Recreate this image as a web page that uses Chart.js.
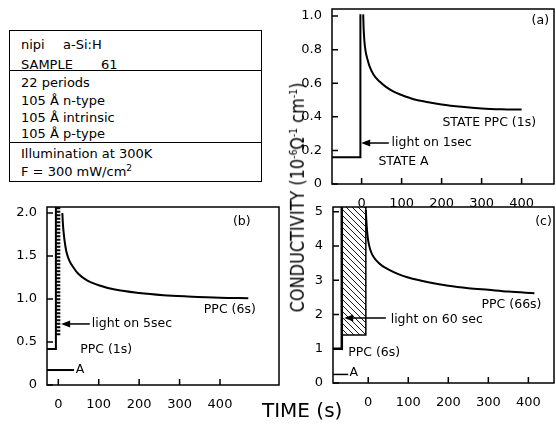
<!DOCTYPE html>
<html><head><meta charset="utf-8">
<script src="https://cdn.jsdelivr.net/npm/chart.js@4.4.1/dist/chart.umd.min.js"></script>
<style>
html,body{margin:0;padding:0;background:#fff;}
body{width:556px;height:428px;position:relative;overflow:hidden;font-family:"DejaVu Sans",sans-serif;color:#000;}
canvas{position:absolute;}
.box{position:absolute;left:9px;top:30px;width:251px;height:150px;border:1.5px solid #000;}
.hr{position:absolute;left:0;right:0;height:0;border-top:1.5px solid #000;}
.ln{position:absolute;font-size:13px;line-height:1;white-space:nowrap;transform:translateY(-50%);}
.title{position:absolute;white-space:nowrap;font-size:19px;line-height:1;transform-origin:center center;}
.title sup{font-size:11px;line-height:0;vertical-align:7px;}
.ln sup{font-size:9px;line-height:0;vertical-align:5px;}
</style></head><body>
<canvas id="ca" width="256" height="210" style="left:300px;top:0px"></canvas>
<canvas id="cb" width="272" height="215" style="left:10px;top:195px"></canvas>
<canvas id="cc" width="246" height="215" style="left:310px;top:195px"></canvas>

<div class="box">
  <span class="ln" style="left:11px;top:13px">nipi</span><span class="ln" style="left:53px;top:13px">a-Si:H</span>
  <span class="ln" style="left:11px;top:33px">SAMPLE</span><span class="ln" style="left:91px;top:33px">61</span>
  <div class="hr" style="top:39px"></div>
  <span class="ln" style="left:11px;top:51px">22 periods</span>
  <span class="ln" style="left:11px;top:69px">105 Å</span><span class="ln" style="left:53px;top:69px">n-type</span>
  <span class="ln" style="left:11px;top:86px">105 Å</span><span class="ln" style="left:53px;top:86px">intrinsic</span>
  <span class="ln" style="left:11px;top:102px">105 Å</span><span class="ln" style="left:53px;top:102px">p-type</span>
  <div class="hr" style="top:111px"></div>
  <span class="ln" style="left:11px;top:122px">Illumination at 300K</span>
  <span class="ln" style="left:11px;top:140px">F = 300 mW/cm<sup>2</sup></span>
</div>

<div id="ytitle" class="title">CONDUCTIVITY (10<sup>-6</sup>Ω<sup>-1</sup> cm<sup>-1</sup>)</div>
<div id="xtitle" class="title">TIME (s)</div>

<script>
// ---------------- DATA ----------------
const xTickValues = [0, 100, 200, 300, 400];
const aTickValues = [0, 0.2, 0.4, 0.6, 0.8, 1.0];
const aTickLabels = ['0', '0.2', '0.4', '0.6', '0.8', '1.0'];
const bTickValues = [0, 0.5, 1.0, 1.5, 2.0];
const bTickLabels = ['0', '0.5', '1.0', '1.5', '2.0'];
const cTickValues = [0, 1, 2, 3, 4, 5];
const cTickLabels = ['0', '1', '2', '3', '4', '5'];

// (a) light on 1 s
const aStepTime = [-74, -3, -3];
const aStepCond = [0.16, 0.16, 1.01];
const aDecayTime = [4, 5, 7, 10, 15, 20, 30, 45, 60, 80, 100, 130, 160, 200, 250, 300, 350, 400];
const aDecayCond = [1.01, 0.93, 0.85, 0.79, 0.74, 0.70, 0.65, 0.61, 0.58, 0.55, 0.53, 0.505, 0.49, 0.474, 0.46, 0.45, 0.445, 0.443];

// (b) light on 5 s
const bStateATime = [-28, 39];
const bStateACond = [0.174, 0.174];
const bStepTime = [-28, -6, -6];
const bStepCond = [0.42, 0.42, 2.1];
const bLightTime = [0, 0];
const bLightCond = [0.58, 2.1];
const bDecayTime = [10, 11, 13, 16, 20, 27, 37, 50, 70, 100, 140, 200, 260, 320, 400, 470];
const bDecayCond = [2.0, 1.9, 1.78, 1.66, 1.55, 1.45, 1.37, 1.29, 1.22, 1.16, 1.11, 1.07, 1.045, 1.03, 1.015, 1.01];

// (c) light on 60 s
const cStateATime = [-88, -50];
const cStateACond = [0.25, 0.25];
const cStepTime = [-88, -66, -66];
const cStepCond = [1.0, 1.0, 5.2];
const cLightTime = [-66, -6];
const cLightTop = [5.2, 5.2];
const cLightBase = 1.4;
const cLightEdgeTime = [-66, -6, -6];
const cLightEdgeCond = [1.4, 1.4, 5.2];
const cDecayTime = [-6, -5, -3, 0, 5, 10, 20, 35, 50, 75, 100, 150, 200, 250, 300, 350, 415];
const cDecayCond = [5.05, 4.8, 4.45, 4.15, 3.9, 3.75, 3.58, 3.42, 3.32, 3.18, 3.08, 2.94, 2.84, 2.77, 2.72, 2.67, 2.62];

// ---------------- HELPERS ----------------
const pts = (ts, vs) => ts.map((t, i) => ({x: t, y: vs[i]}));
const FONT = '"DejaVu Sans", sans-serif';

function hatchPattern() {
  const c = document.createElement('canvas');
  c.width = 6; c.height = 6;
  const g = c.getContext('2d');
  g.strokeStyle = '#000'; g.lineWidth = 0.9;
  g.beginPath();
  g.moveTo(0, 0); g.lineTo(6, 6);
  g.moveTo(-3, 3); g.lineTo(3, 9);
  g.moveTo(3, -3); g.lineTo(9, 3);
  g.stroke();
  return g.createPattern(c, 'repeat');
}

function line(data, extra) {
  return Object.assign({data, borderColor: '#000', borderWidth: 2, pointRadius: 0, fill: false, tension: 0}, extra || {});
}

function panel(id, o) {
  const deco = {
    id: 'deco',
    afterDatasetsDraw(chart) {
      const {ctx, chartArea: ca, scales: {x, y}} = chart;
      ctx.save();
      ctx.strokeStyle = '#000'; ctx.fillStyle = '#000'; ctx.lineWidth = 1.5;
      ctx.strokeRect(ca.left, ca.top, ca.right - ca.left, ca.bottom - ca.top);
      ctx.beginPath();
      x.ticks.forEach(t => { const p = x.getPixelForValue(t.value); ctx.moveTo(p, ca.bottom); ctx.lineTo(p, ca.bottom - 6); });
      y.ticks.forEach(t => { const p = y.getPixelForValue(t.value); ctx.moveTo(ca.left, p); ctx.lineTo(ca.left + 6, p); });
      ctx.stroke();
      ctx.font = '12.5px ' + FONT; ctx.textBaseline = 'middle'; ctx.textAlign = 'left';
      (o.labels || []).forEach(l => ctx.fillText(l.text, x.getPixelForValue(l.t), y.getPixelForValue(l.v)));
      ctx.lineWidth = 1.5;
      (o.arrows || []).forEach(a => {
        const x1 = x.getPixelForValue(a.from), x2 = x.getPixelForValue(a.to), py = y.getPixelForValue(a.v);
        ctx.beginPath(); ctx.moveTo(x1, py); ctx.lineTo(x2 + 6, py); ctx.stroke();
        ctx.beginPath(); ctx.moveTo(x2, py); ctx.lineTo(x2 + 9, py - 3.5); ctx.lineTo(x2 + 9, py + 3.5); ctx.closePath(); ctx.fill();
      });
      ctx.restore();
    }
  };
  return new Chart(document.getElementById(id), {
    type: 'line',
    data: {datasets: o.datasets},
    options: {
      responsive: false, animation: false, devicePixelRatio: 1,
      layout: {padding: o.padding},
      plugins: {legend: {display: false}, tooltip: {enabled: false}},
      scales: {
        x: {
          type: 'linear', min: o.xmin, max: o.xmax,
          grid: {display: false}, border: {display: false},
          ticks: {color: '#000', font: {family: FONT, size: 13}, padding: 4, maxRotation: 0, callback: v => String(v)},
          afterBuildTicks: s => { s.ticks = xTickValues.map(v => ({value: v})); },
          afterFit: s => { s.height = o.xh; s.paddingLeft = 0; s.paddingRight = 0; }
        },
        y: {
          type: 'linear', min: 0, max: o.ymax,
          grid: {display: false}, border: {display: false},
          ticks: {color: '#000', font: {family: FONT, size: 13}, padding: 2, callback: (v, i) => o.yLabels[i]},
          afterBuildTicks: s => { s.ticks = o.yTicks.map(v => ({value: v})); },
          afterFit: s => { s.width = o.yw; s.paddingTop = 0; s.paddingBottom = 0; }
        }
      }
    },
    plugins: [deco]
  });
}

// ---------------- PANELS ----------------
panel('ca', {
  xmin: -74, xmax: 481, ymax: 1.042, yw: 32, xh: 26,
  padding: {top: 9, right: 2, left: 0, bottom: 0},
  yTicks: aTickValues, yLabels: aTickLabels,
  datasets: [
    line(pts(aStepTime, aStepCond)),
    line(pts(aDecayTime, aDecayCond), {cubicInterpolationMode: 'monotone'})
  ],
  labels: [
    {t: 42, v: 0.135, text: 'STATE A'},
    {t: 202, v: 0.365, text: 'STATE PPC (1s)'},
    {t: 75, v: 0.244, text: 'light on 1sec'},
    {t: 425, v: 0.975, text: '(a)'}
  ],
  arrows: [{from: 68, to: -1, v: 0.244}]
});

panel('cb', {
  xmin: -28, xmax: 546, ymax: 2.07, yw: 37, xh: 25,
  padding: {top: 12, right: 3, left: 0, bottom: 0},
  yTicks: bTickValues, yLabels: bTickLabels,
  datasets: [
    line(pts(bLightTime, bLightCond), {borderWidth: 4, borderDash: [2, 1.5]}),
    line(pts(bStateATime, bStateACond)),
    line(pts(bStepTime, bStepCond)),
    line(pts(bDecayTime, bDecayCond), {cubicInterpolationMode: 'monotone'})
  ],
  labels: [
    {t: 83, v: 0.71, text: 'light on 5sec'},
    {t: 54, v: 0.41, text: 'PPC (1s)'},
    {t: 43, v: 0.174, text: 'A'},
    {t: 360, v: 0.87, text: 'PPC (6s)'},
    {t: 432, v: 1.9, text: '(b)'}
  ],
  arrows: [{from: 78, to: 7, v: 0.71}]
});

panel('cc', {
  xmin: -88, xmax: 464, ymax: 5.14, yw: 23, xh: 27,
  padding: {top: 12, right: 2, left: 0, bottom: 0},
  yTicks: cTickValues, yLabels: cTickLabels,
  datasets: [
    line(pts(cLightTime, cLightTop), {borderWidth: 0, fill: {value: cLightBase}, backgroundColor: hatchPattern()}),
    line(pts(cLightEdgeTime, cLightEdgeCond), {borderWidth: 1.5}),
    line(pts(cStateATime, cStateACond), {borderWidth: 1.5}),
    line(pts(cStepTime, cStepCond), {borderWidth: 2.5}),
    line(pts(cDecayTime, cDecayCond), {cubicInterpolationMode: 'monotone'})
  ],
  labels: [
    {t: 56, v: 1.86, text: 'light on 60 sec'},
    {t: -50, v: 0.87, text: 'PPC (6s)'},
    {t: -47, v: 0.3, text: 'A'},
    {t: 283, v: 2.28, text: 'PPC (66s)'},
    {t: 417, v: 4.72, text: '(c)'}
  ],
  arrows: [{from: 44, to: -60, v: 1.9}]
});

// ---------------- TITLES ----------------
(function () {
  const yt = document.getElementById('ytitle');
  const w = yt.offsetWidth, h = yt.offsetHeight;
  yt.style.left = (297.5 - w / 2) + 'px';
  yt.style.top = (197 - h / 2) + 'px';
  yt.style.transform = 'rotate(-90deg) scaleX(' + (230 / w) + ')';
  const xt = document.getElementById('xtitle');
  const w2 = xt.offsetWidth, h2 = xt.offsetHeight;
  xt.style.left = '262px';
  xt.style.top = (410 - h2 / 2) + 'px';
  xt.style.transform = 'scaleX(' + (80 / w2) + ')';
  xt.style.transformOrigin = 'left center';
})();
</script>
</body></html>
